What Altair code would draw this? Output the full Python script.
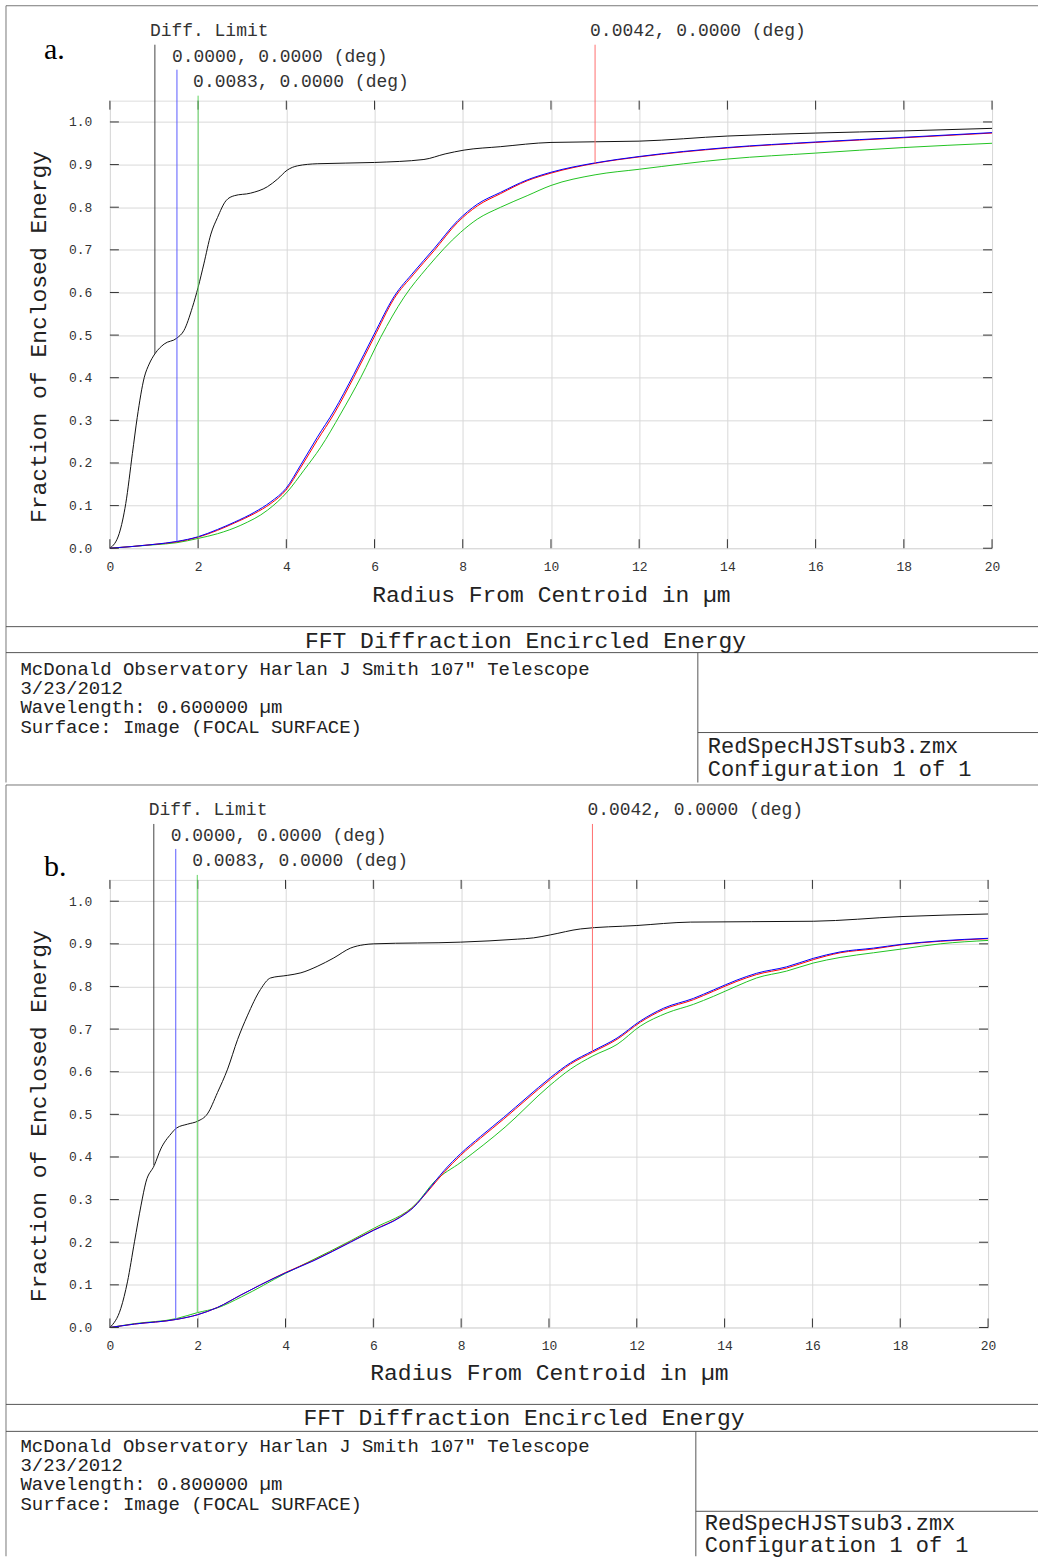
import altair as alt
import pandas as pd

# ---------------- data ----------------
X_TICKS = [0, 2, 4, 6, 8, 10, 12, 14, 16, 18, 20]
Y_TICKS = [0.0, 0.1, 0.2, 0.3, 0.4, 0.5, 0.6, 0.7, 0.8, 0.9, 1.0]

# Panel a (wavelength 0.6 um)
A_BLACK_X = [0, 0.21, 0.36, 0.51, 0.62, 0.78, 0.89, 1.02, 1.23, 1.52, 1.68, 1.87, 2.0, 2.13, 2.29,
             2.44, 2.63, 2.82, 3.19, 3.57, 3.80, 4.02, 4.25, 4.70, 6.0, 7.12, 7.6, 8.03, 8.85, 10.0,
             12.0, 14.0, 16.0, 18.0, 20.0]
A_BLACK_Y = [0, 0.034, 0.105, 0.222, 0.307, 0.401, 0.432, 0.456, 0.479, 0.493, 0.511, 0.565, 0.612,
             0.667, 0.737, 0.776, 0.815, 0.827, 0.833, 0.848, 0.866, 0.887, 0.897, 0.902, 0.905, 0.912,
             0.925, 0.934, 0.942, 0.952, 0.955, 0.967, 0.974, 0.979, 0.985]
A_RB_X = [0, 0.5, 1.0, 1.52, 2.0, 2.44, 2.82, 3.27, 3.65, 3.99, 4.33, 4.70, 5.08, 5.53, 5.99, 6.44,
          6.89, 7.35, 7.88, 8.33, 8.86, 9.46, 10.0, 11.0, 12.0, 14.0, 16.0, 18.0, 20.0]
A_RED_Y = [0, 0.004, 0.009, 0.015, 0.026, 0.042, 0.059, 0.081, 0.105, 0.136, 0.190, 0.253, 0.315,
           0.401, 0.495, 0.585, 0.643, 0.698, 0.764, 0.803, 0.832, 0.862, 0.880, 0.903, 0.918, 0.939,
           0.952, 0.963, 0.974]
A_BLUE_Y = [0, 0.004, 0.009, 0.016, 0.027, 0.044, 0.061, 0.084, 0.109, 0.140, 0.196, 0.260, 0.322,
            0.408, 0.502, 0.590, 0.648, 0.703, 0.768, 0.807, 0.835, 0.864, 0.882, 0.904, 0.919, 0.940,
            0.953, 0.964, 0.975]
A_GREEN_X = [0, 0.5, 1.0, 1.52, 2.0, 2.44, 2.97, 3.57, 4.02, 4.40, 4.78, 5.23, 5.69, 6.14, 6.67,
             7.20, 7.95, 8.33, 8.86, 9.46, 10.0, 11.0, 12.0, 14.0, 16.0, 18.0, 20.0]
A_GREEN_Y = [0, 0.004, 0.008, 0.013, 0.023, 0.034, 0.054, 0.089, 0.132, 0.183, 0.237, 0.315, 0.401,
             0.495, 0.589, 0.659, 0.741, 0.772, 0.800, 0.827, 0.851, 0.876, 0.889, 0.913, 0.927,
             0.940, 0.950]
A_MARK_X = [1.02, 1.52, 2.0, 11.0]
A_MARK_END = [0.456, 0.016, 0.026, 0.903]

# Panel b (wavelength 0.8 um)
B_BLACK_X = [0, 0.25, 0.40, 0.56, 0.71, 0.82, 1.01, 1.16, 1.39, 1.52, 1.77, 2.0, 2.22, 2.45, 2.68,
             2.91, 3.13, 3.43, 3.66, 4.04, 4.35, 4.72, 5.10, 5.48, 5.79, 6.01, 7.99, 9.28, 9.65,
             10.03, 10.72, 12.0, 13.22, 16.02, 18.04, 20.0]
B_BLACK_Y = [0, 0.045, 0.107, 0.201, 0.287, 0.341, 0.380, 0.419, 0.454, 0.468, 0.477, 0.484, 0.501,
             0.551, 0.606, 0.676, 0.731, 0.793, 0.820, 0.826, 0.832, 0.847, 0.867, 0.890, 0.898,
             0.900, 0.904, 0.911, 0.914, 0.921, 0.935, 0.943, 0.951, 0.953, 0.964, 0.970]
B_RB_X = [0, 0.56, 1.52, 2.0, 2.45, 2.98, 3.43, 4.0, 4.65, 5.48, 6.01, 6.62, 6.92, 7.23, 7.61, 7.99,
          8.44, 8.97, 9.5, 10.03, 10.49, 11.0, 11.55, 12.08, 12.61, 13.29, 13.75, 14.28, 14.73,
          15.41, 16.02, 16.63, 17.39, 18.04, 18.91, 20.0]
B_RED_Y = [0, 0.008, 0.019, 0.030, 0.047, 0.076, 0.100, 0.129, 0.158, 0.201, 0.229, 0.260, 0.283,
           0.318, 0.364, 0.404, 0.444, 0.489, 0.536, 0.582, 0.618, 0.646, 0.676, 0.716, 0.746,
           0.769, 0.789, 0.812, 0.828, 0.843, 0.863, 0.879, 0.888, 0.898, 0.906, 0.912]
B_BLUE_Y = [0, 0.008, 0.019, 0.030, 0.047, 0.076, 0.100, 0.128, 0.157, 0.200, 0.228, 0.259, 0.282,
            0.320, 0.368, 0.408, 0.448, 0.493, 0.540, 0.586, 0.621, 0.649, 0.679, 0.719, 0.749,
            0.772, 0.792, 0.815, 0.831, 0.846, 0.866, 0.881, 0.890, 0.899, 0.907, 0.913]
B_GREEN_X = [0, 0.56, 1.52, 2.0, 2.45, 3.0, 4.0, 5.0, 6.0, 7.0, 7.38, 8.0, 9.0, 10.0, 10.49, 11.0,
             11.55, 12.08, 12.69, 13.29, 13.75, 14.28, 14.73, 15.41, 16.02, 16.63, 17.39, 18.04,
             18.91, 20.0]
B_GREEN_Y = [0, 0.009, 0.021, 0.035, 0.046, 0.072, 0.127, 0.178, 0.232, 0.293, 0.341, 0.388, 0.470,
             0.566, 0.606, 0.637, 0.664, 0.707, 0.738, 0.758, 0.777, 0.801, 0.820, 0.836, 0.855,
             0.868, 0.879, 0.888, 0.900, 0.908]
B_MARK_X = [1.0, 1.5, 1.99, 10.99]
B_MARK_END = [0.38, 0.019, 0.035, 0.645]

MARK_LABELS = ["Diff. Limit", "0.0000, 0.0000 (deg)", "0.0083, 0.0000 (deg)", "0.0042, 0.0000 (deg)"]

X_TITLE = "Radius From Centroid in µm"
Y_TITLE = "Fraction of Enclosed Energy"
PLOT_TITLE = "FFT Diffraction Encircled Energy"
A_INFO = ["McDonald Observatory Harlan J Smith 107\" Telescope", "3/23/2012",
          "Wavelength: 0.600000 µm", "Surface: Image (FOCAL SURFACE)"]
B_INFO = ["McDonald Observatory Harlan J Smith 107\" Telescope", "3/23/2012",
          "Wavelength: 0.800000 µm", "Surface: Image (FOCAL SURFACE)"]
FILE_INFO = ["RedSpecHJSTsub3.zmx", "Configuration 1 of 1"]
PANEL_TAGS = ["a.", "b."]

# ---------------- styling ----------------
FONT = "Liberation Mono"
SERIF = "Liberation Serif"
TXT = "#222222"
TICKLAB = "#333333"
FRAME = "#777777"
SEP = "#555555"
AXC = "#333333"
GRID = "#d9d9d9"
C_BLACK, C_RED, C_BLUE, C_GREEN = "#111111", "#ff0000", "#0000ff", "#22c322"
M_COLORS = ["#444444", "#5a5aff", "#5fd35f", "#ff6f6f"]

XS = alt.Scale(domain=[0, 20], nice=False, zero=False)
YS = alt.Scale(domain=[0, 1.05], nice=False, zero=False)
ONE = pd.DataFrame({"k": [0]})


def hline(x1, x2, y, color=SEP):
    return alt.Chart(ONE).mark_rule(color=color, strokeWidth=1).encode(
        x=alt.value(x1), x2=alt.value(x2), y=alt.value(y))


def vline(x, y1, y2, color=SEP):
    return alt.Chart(ONE).mark_rule(color=color, strokeWidth=1).encode(
        x=alt.value(x), y=alt.value(y1), y2=alt.value(y2))


def text(t, x, y, size, align="left", baseline="middle", font=FONT, color=TXT):
    return alt.Chart(pd.DataFrame({"t": [t]})).mark_text(
        font=font, fontSize=size, align=align, baseline=baseline, color=color
    ).encode(x=alt.value(x), y=alt.value(y), text="t:N")


def axes(W, titleY):
    xa = alt.Axis(values=X_TICKS, format="d", title=X_TITLE, grid=True, gridColor=GRID,
                  domain=False, ticks=False, tickSize=0, labelFont=FONT, labelFontSize=13,
                  labelColor=TICKLAB, labelPadding=12, labelFlush=False, labelOverlap=False,
                  titleFont=FONT, titleFontSize=23, titleFontWeight="normal", titleColor=TXT,
                  titleBaseline="middle", titleY=titleY, titleX=W / 2)
    ya = alt.Axis(values=Y_TICKS, format=".1f", title=Y_TITLE, grid=True, gridColor=GRID,
                  domain=False, ticks=False, tickSize=0, labelFont=FONT, labelFontSize=13,
                  labelColor=TICKLAB, labelPadding=18, labelFlush=False, labelOverlap=False,
                  titleFont=FONT, titleFontSize=23, titleFontWeight="normal", titleColor=TXT,
                  titleAngle=270, titleAlign="center", titleBaseline="middle",
                  titleX=-71, titleY=236)
    return xa, ya


def X(field, axis=alt.Undefined):
    return alt.X(field, scale=XS, axis=axis)


def Y(field, axis=alt.Undefined):
    return alt.Y(field, scale=YS, axis=axis)


def curve(xs, ys, color, ax=None):
    df = pd.DataFrame({"r": xs, "f": ys})
    if ax is not None:
        enc = dict(x=X("r:Q", ax[0]), y=Y("f:Q", ax[1]))
    else:
        enc = dict(x=X("r:Q"), y=Y("f:Q"))
    return alt.Chart(df).mark_line(color=color, strokeWidth=1, interpolate="monotone").encode(**enc)


def frame_ticks(W, H):
    yt = pd.DataFrame({"f": Y_TICKS})
    xt = pd.DataFrame({"r": X_TICKS})
    return [
        alt.Chart(yt).mark_rule(color=AXC).encode(y=Y("f:Q"), x=alt.value(0), x2=alt.value(9)),
        alt.Chart(yt).mark_rule(color=AXC).encode(y=Y("f:Q"), x=alt.value(W - 9), x2=alt.value(W)),
        alt.Chart(xt).mark_rule(color=AXC).encode(x=X("r:Q"), y=alt.value(H - 9), y2=alt.value(H)),
        alt.Chart(xt).mark_rule(color=AXC).encode(x=X("r:Q"), y=alt.value(0), y2=alt.value(9)),
    ]


def markers(mx, mend, tops, laby):
    out = []
    for i in range(4):
        df = pd.DataFrame({"r": [mx[i]], "f": [mend[i]], "t": [MARK_LABELS[i]]})
        out.append(alt.Chart(df).mark_rule(color=M_COLORS[i], strokeWidth=1).encode(
            x=X("r:Q"), y=Y("f:Q"), y2=alt.value(tops[i])))
        out.append(alt.Chart(df).mark_text(font=FONT, fontSize=18, align="left", baseline="middle",
                                           dx=-5, color="#333333").encode(
            x=X("r:Q"), y=alt.value(laby[i]), text="t:N"))
    return out


def panel(W, H, g, black, green, red, blue, mx, mend, info, tag):
    L, T, R = -104, -95, 929
    layers = [
        curve(black[0], black[1], C_BLACK, ax=axes(W, g["xtitle"])),
        curve(green[0], green[1], C_GREEN),
        curve(red[0], red[1], C_RED),
        curve(blue[0], blue[1], C_BLUE),
    ]
    layers += frame_ticks(W, H)
    layers += markers(mx, mend, [-56, -31, -5, -56], [-69.5, -43.5, -18.5, -69.5])
    # outer frame & boxes
    layers += [
        hline(L, R, T, FRAME),
        vline(L, T, g["bottom"], FRAME),
        hline(L, R, g["sep1"]),
        hline(L, R, g["sep2"]),
        vline(g["vx"], g["sep2"], g["bottom"]),
        hline(g["vx"], R, g["sep3"]),
        text(PLOT_TITLE, g["tx"], g["ty"], 23, align="center"),
        text(FILE_INFO[0], g["fx"], g["f1"], 22),
        text(FILE_INFO[1], g["fx"], g["f2"], 22, baseline=g["f2b"]),
        text(tag, -66, g["tag"], 30, baseline="alphabetic", font=SERIF, color="#000000"),
    ]
    for i, line in enumerate(info):
        layers.append(text(line, -89.5, g["info"][i], 19))
    return alt.layer(*layers).properties(width=W, height=H)


GA = dict(bottom=682.5, sep1=526.5, sep2=552.5, sep3=632.5, vx=588.5, tx=416, ty=540.5,
          fx=598.5, f1=645.5, f2=668.5, f2b="middle", tag=-41.5, xtitle=46.5,
          info=[568.5, 587.5, 606.5, 626.5])
GB = dict(bottom=677, sep1=525, sep2=552, sep3=632, vx=586.5, tx=414.5, ty=539,
          fx=595.5, f1=644, f2=673, f2b="alphabetic", tag=-4, xtitle=45,
          info=[567, 586, 605, 625])

pa = panel(883, 448, GA, (A_BLACK_X, A_BLACK_Y), (A_GREEN_X, A_GREEN_Y), (A_RB_X, A_RED_Y),
           (A_RB_X, A_BLUE_Y), A_MARK_X, A_MARK_END, A_INFO, PANEL_TAGS[0])
pb = panel(879, 448, GB, (B_BLACK_X, B_BLACK_Y), (B_GREEN_X, B_GREEN_Y), (B_RB_X, B_RED_Y),
           (B_RB_X, B_BLUE_Y), B_MARK_X, B_MARK_END, B_INFO, PANEL_TAGS[1])

chart = alt.vconcat(pa, pb, spacing=0).properties(
    padding={"left": 5, "top": 4, "right": 0, "bottom": 0}
).configure_view(stroke=AXC, strokeWidth=1).configure(background="white")

chart.save("out.html", embed_options={"renderer": "svg", "actions": False})
